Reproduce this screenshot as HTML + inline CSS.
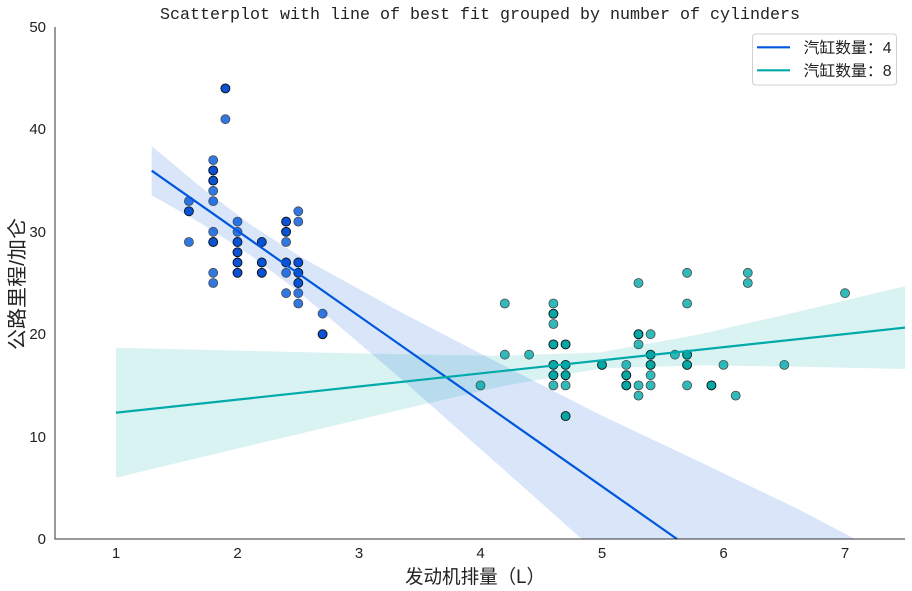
<!DOCTYPE html>
<html><head><meta charset="utf-8">
<style>
html,body{margin:0;padding:0;background:#fff;width:912px;height:591px;overflow:hidden;}
svg{display:block;position:absolute;left:0;top:0;}
</style></head>
<body>
<svg width="912" height="591" viewBox="0 0 912 591" xmlns="http://www.w3.org/2000/svg">
<defs><clipPath id="ax"><rect x="55" y="27" width="850" height="512"/></clipPath></defs>
<rect width="912" height="591" fill="#fff"/>

<g clip-path="url(#ax)">
<!-- blue scatter singles -->
<g fill="#0057dd" stroke="#1a1a1a" stroke-width="0.8" opacity="0.8">
<circle cx="188.9" cy="201.1" r="4.5"/><circle cx="188.9" cy="242.0" r="4.5"/>
<circle cx="213.2" cy="160.1" r="4.5"/><circle cx="213.2" cy="190.8" r="4.5"/><circle cx="213.2" cy="201.1" r="4.5"/><circle cx="213.2" cy="231.8" r="4.5"/><circle cx="213.2" cy="272.8" r="4.5"/><circle cx="213.2" cy="283.0" r="4.5"/>
<circle cx="225.4" cy="119.2" r="4.5"/>
<circle cx="237.5" cy="221.6" r="4.5"/><circle cx="237.5" cy="231.8" r="4.5"/>
<circle cx="286.1" cy="242.0" r="4.5"/><circle cx="286.1" cy="272.8" r="4.5"/><circle cx="286.1" cy="293.2" r="4.5"/>
<circle cx="298.3" cy="211.3" r="4.5"/><circle cx="298.3" cy="221.6" r="4.5"/><circle cx="298.3" cy="293.2" r="4.5"/><circle cx="298.3" cy="303.5" r="4.5"/>
<circle cx="322.6" cy="313.7" r="4.5"/>
</g>
<!-- blue scatter overlapping (darker) -->
<g fill="#0a52d2" stroke="#0a0a0a" stroke-width="0.9">
<circle cx="188.9" cy="211.3" r="4.5"/>
<circle cx="213.2" cy="170.4" r="4.5"/><circle cx="213.2" cy="180.6" r="4.5"/><circle cx="213.2" cy="242.0" r="4.5"/>
<circle cx="225.4" cy="88.4" r="4.5"/>
<circle cx="237.5" cy="242.0" r="4.5"/><circle cx="237.5" cy="252.3" r="4.5"/><circle cx="237.5" cy="262.5" r="4.5"/><circle cx="237.5" cy="272.8" r="4.5"/>
<circle cx="261.8" cy="242.0" r="4.5"/><circle cx="261.8" cy="262.5" r="4.5"/><circle cx="261.8" cy="272.8" r="4.5"/>
<circle cx="286.1" cy="221.6" r="4.5"/><circle cx="286.1" cy="231.8" r="4.5"/><circle cx="286.1" cy="262.5" r="4.5"/>
<circle cx="298.3" cy="262.5" r="4.5"/><circle cx="298.3" cy="272.8" r="4.5"/><circle cx="298.3" cy="283.0" r="4.5"/>
<circle cx="322.6" cy="334.2" r="4.5"/>
</g>
<!-- blue band -->
<polygon fill="#0057dd" fill-opacity="0.15" points="151.7,146.1 200,186.4 250,224.3 300,256.5 400,311.7 440,332.5 500,363.6 600,414.7 700,462 800,510 855,539 581.7,539 500,466.2 400,377.9 300,292.9 250,254.9 200,222.8 151.7,195.3"/>

<!-- teal scatter singles -->
<g fill="#00aaaa" stroke="#1a1a1a" stroke-width="0.8" opacity="0.8">
<circle cx="480.5" cy="385.4" r="4.5"/>
<circle cx="504.8" cy="303.5" r="4.5"/><circle cx="504.8" cy="354.7" r="4.5"/>
<circle cx="529.1" cy="354.7" r="4.5"/>
<circle cx="553.4" cy="303.5" r="4.5"/><circle cx="553.4" cy="324.0" r="4.5"/><circle cx="553.4" cy="385.4" r="4.5"/>
<circle cx="565.6" cy="385.4" r="4.5"/>
<circle cx="626.3" cy="364.9" r="4.5"/>
<circle cx="638.5" cy="283.0" r="4.5"/><circle cx="638.5" cy="344.4" r="4.5"/><circle cx="638.5" cy="385.4" r="4.5"/><circle cx="638.5" cy="395.6" r="4.5"/>
<circle cx="650.6" cy="334.2" r="4.5"/><circle cx="650.6" cy="375.2" r="4.5"/><circle cx="650.6" cy="385.4" r="4.5"/>
<circle cx="674.9" cy="354.7" r="4.5"/>
<circle cx="687.1" cy="272.8" r="4.5"/><circle cx="687.1" cy="303.5" r="4.5"/><circle cx="687.1" cy="385.4" r="4.5"/>
<circle cx="723.5" cy="364.9" r="4.5"/>
<circle cx="735.7" cy="395.6" r="4.5"/>
<circle cx="747.8" cy="272.8" r="4.5"/><circle cx="747.8" cy="283.0" r="4.5"/>
<circle cx="784.3" cy="364.9" r="4.5"/>
<circle cx="845" cy="293.2" r="4.5"/>
</g>
<!-- teal overlapping (darker) -->
<g fill="#05a6a3" stroke="#0a0a0a" stroke-width="0.9">
<circle cx="553.4" cy="313.7" r="4.5"/><circle cx="553.4" cy="344.4" r="4.5"/><circle cx="553.4" cy="364.9" r="4.5"/><circle cx="553.4" cy="375.2" r="4.5"/>
<circle cx="565.6" cy="344.4" r="4.5"/><circle cx="565.6" cy="364.9" r="4.5"/><circle cx="565.6" cy="375.2" r="4.5"/><circle cx="565.6" cy="416.1" r="4.5"/>
<circle cx="602" cy="364.9" r="4.5"/>
<circle cx="626.3" cy="375.2" r="4.5"/><circle cx="626.3" cy="385.4" r="4.5"/>
<circle cx="638.5" cy="334.2" r="4.5"/>
<circle cx="650.6" cy="354.7" r="4.5"/><circle cx="650.6" cy="364.9" r="4.5"/>
<circle cx="687.1" cy="354.7" r="4.5"/><circle cx="687.1" cy="364.9" r="4.5"/>
<circle cx="711.4" cy="385.4" r="4.5"/>
</g>
<!-- teal band -->
<polygon fill="#00aaaa" fill-opacity="0.15" points="116,347.7 200,349.7 300,352.1 400,354.3 500,355.8 600,352.5 700,334.2 800,311.2 905,286.2 905,369.0 800,366.8 700,365.2 600,368.5 500,386.8 400,409.9 300,433.7 200,457.5 116,477.7"/>

<!-- lines -->
<line x1="151.7" y1="170.7" x2="677" y2="539" stroke="#0057dd" stroke-width="2.2"/>
<line x1="116" y1="412.7" x2="905" y2="327.6" stroke="#00aaaa" stroke-width="2.2"/>
</g>

<!-- spines -->
<line x1="55" y1="27" x2="55" y2="539.5" stroke="#333" stroke-width="1"/>
<line x1="54.5" y1="539" x2="905" y2="539" stroke="#333" stroke-width="1"/>

<!-- tick labels -->
<g font-family="Liberation Sans, sans-serif" font-size="15" fill="#222" text-anchor="end">
<text x="46" y="544">0</text>
<text x="46" y="442">10</text>
<text x="46" y="339">20</text>
<text x="46" y="237">30</text>
<text x="46" y="134">40</text>
<text x="46" y="32">50</text>
</g>
<g font-family="Liberation Sans, sans-serif" font-size="15" fill="#222" text-anchor="middle">
<text x="116" y="558">1</text>
<text x="237.5" y="558">2</text>
<text x="359" y="558">3</text>
<text x="480.5" y="558">4</text>
<text x="602" y="558">5</text>
<text x="723.5" y="558">6</text>
<text x="845" y="558">7</text>
</g>

<!-- title -->
<text x="480" y="19" font-family="Liberation Mono, monospace" font-size="17" fill="#222" text-anchor="middle" textLength="640" lengthAdjust="spacingAndGlyphs">Scatterplot with line of best fit grouped by number of cylinders</text>

<!-- axis labels -->
<text x="475" y="583" font-family="Liberation Sans, 'Noto Sans CJK SC', sans-serif" font-size="19" fill="#222" text-anchor="middle" textLength="140" lengthAdjust="spacingAndGlyphs">发动机排量（L）</text>
<text transform="translate(24,284) rotate(-90)" font-family="Liberation Sans, 'Noto Sans CJK SC', sans-serif" font-size="20" fill="#222" text-anchor="middle" textLength="132" lengthAdjust="spacingAndGlyphs">公路里程/加仑</text>

<!-- legend -->
<rect x="752.5" y="34" width="144" height="51" rx="3" ry="3" fill="#fff" fill-opacity="0.8" stroke="#d0d0d0" stroke-width="1"/>
<line x1="757" y1="47.3" x2="790" y2="47.3" stroke="#0057dd" stroke-width="2.2"/>
<line x1="757" y1="70.3" x2="790" y2="70.3" stroke="#00aaaa" stroke-width="2.2"/>
<g font-family="Liberation Sans, 'Noto Sans CJK SC', sans-serif" font-size="15.5" fill="#222">
<text x="803.5" y="53" textLength="88" lengthAdjust="spacingAndGlyphs">汽缸数量：4</text>
<text x="803.5" y="76" textLength="88" lengthAdjust="spacingAndGlyphs">汽缸数量：8</text>
</g>
</svg>
</body></html>
